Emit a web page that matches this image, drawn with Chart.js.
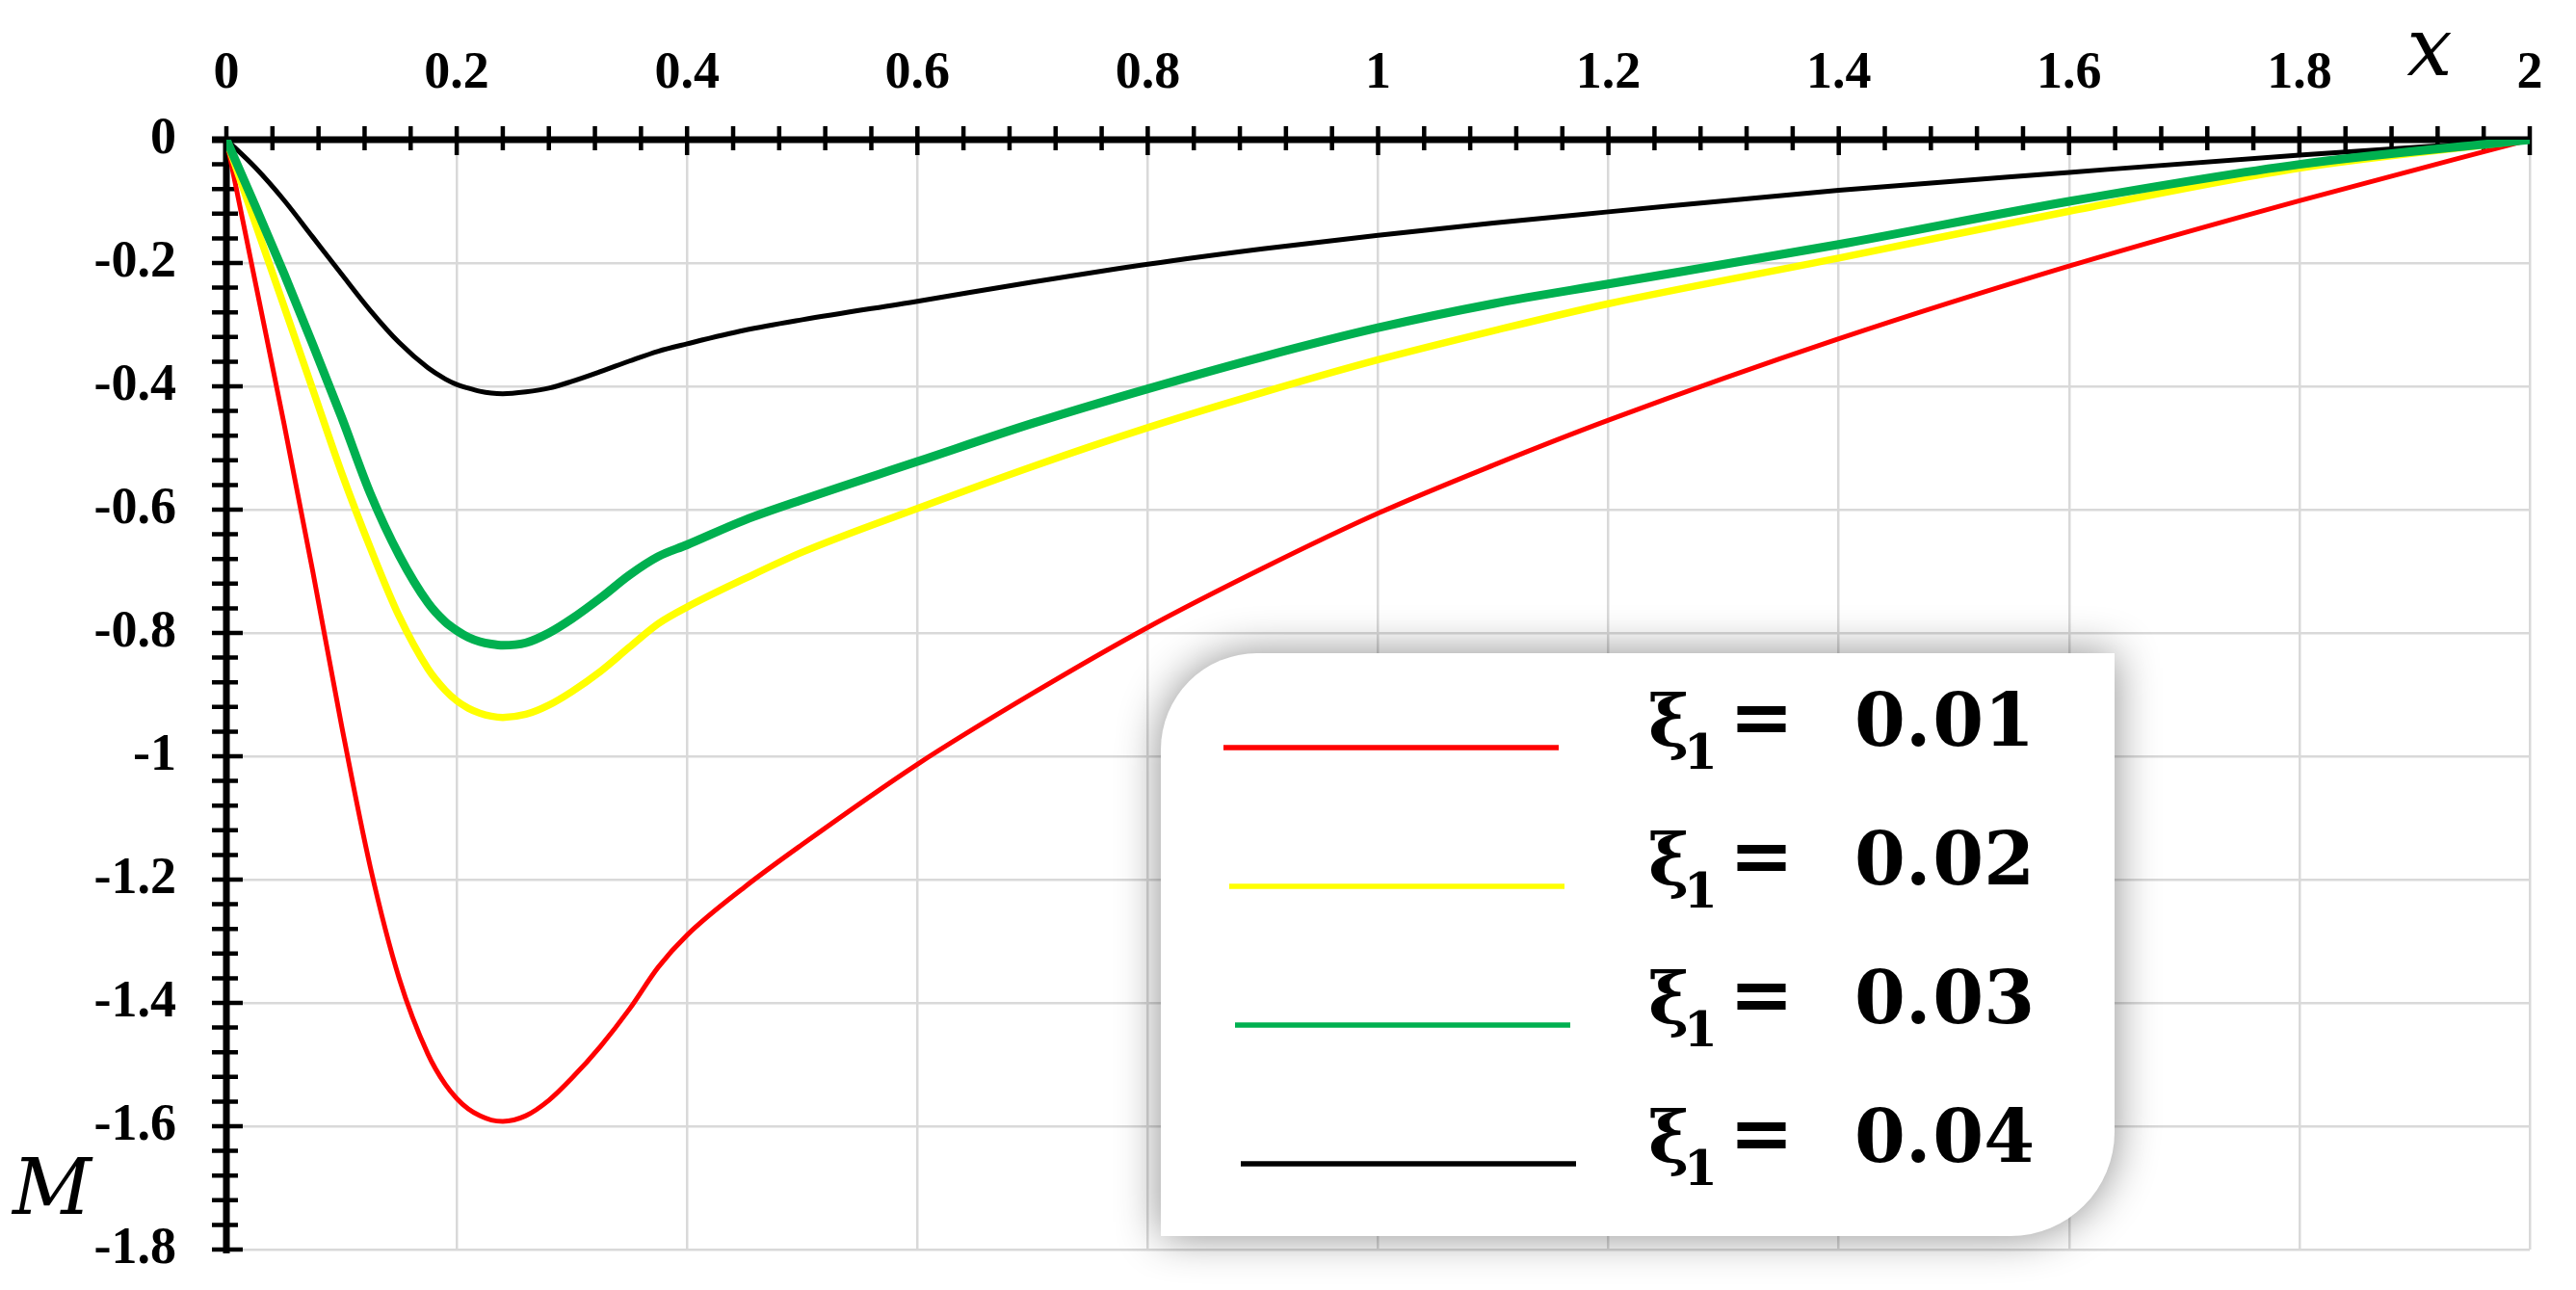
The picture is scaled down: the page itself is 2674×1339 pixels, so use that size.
<!DOCTYPE html>
<html>
<head>
<meta charset="utf-8">
<script src="https://cdn.jsdelivr.net/npm/chart.js@4/dist/chart.umd.min.js"></script>
<style>
  html, body { margin: 0; padding: 0; background: #ffffff; }
  #wrap { width: 2674px; height: 1339px; position: relative; }
</style>
</head>
<body>
<div id="wrap"><canvas id="c" width="2674" height="1339"></canvas></div>
<script>
// ---- data ----
const xValues = [0, 0.025, 0.05, 0.075, 0.1, 0.125, 0.15, 0.175, 0.19, 0.2, 0.21, 0.22, 0.23, 0.24, 0.26, 0.28, 0.3, 0.325, 0.35, 0.375, 0.4, 0.45, 0.5, 0.6, 0.7, 0.8, 0.9, 1.0, 1.1, 1.2, 1.4, 1.6, 1.8, 2.0];

const seriesXi001 = [0, -0.23, -0.46, -0.70, -0.95, -1.18, -1.36, -1.483, -1.532, -1.555, -1.572, -1.583, -1.590, -1.592, -1.583, -1.558, -1.522, -1.470, -1.410, -1.342, -1.290, -1.212, -1.143, -1.013, -0.898, -0.791, -0.695, -0.606, -0.528, -0.455, -0.323, -0.205, -0.099, 0];
const seriesXi002 = [0, -0.135, -0.27, -0.405, -0.54, -0.662, -0.773, -0.858, -0.893, -0.910, -0.922, -0.930, -0.935, -0.937, -0.932, -0.917, -0.895, -0.862, -0.823, -0.785, -0.758, -0.712, -0.669, -0.598, -0.530, -0.467, -0.410, -0.357, -0.310, -0.266, -0.192, -0.116, -0.046, 0];
const seriesXi003 = [0, -0.107, -0.217, -0.332, -0.450, -0.574, -0.674, -0.751, -0.782, -0.796, -0.807, -0.814, -0.818, -0.820, -0.816, -0.800, -0.777, -0.743, -0.706, -0.676, -0.657, -0.617, -0.584, -0.522, -0.460, -0.404, -0.352, -0.305, -0.266, -0.234, -0.170, -0.100, -0.040, 0];
const seriesXi004 = [0, -0.045, -0.098, -0.158, -0.218, -0.277, -0.329, -0.370, -0.388, -0.397, -0.403, -0.408, -0.411, -0.412, -0.409, -0.403, -0.392, -0.376, -0.359, -0.343, -0.331, -0.309, -0.292, -0.262, -0.231, -0.202, -0.177, -0.155, -0.135, -0.117, -0.082, -0.053, -0.025, 0];

const legendValues = ['0.01', '0.02', '0.03', '0.04'];
const xTickLabels = ['0', '0.2', '0.4', '0.6', '0.8', '1', '1.2', '1.4', '1.6', '1.8', '2'];
const yTickLabels = ['-1.8', '-1.6', '-1.4', '-1.2', '-1', '-0.8', '-0.6', '-0.4', '-0.2', '0'];
const xAxisTitle = 'x';
const yAxisTitle = 'M';

// ---- styling ----
const colors = ['#ff0000', '#ffff00', '#00b050', '#000000'];
const widths = [5, 7.5, 9, 5];
const drawOrder = [2, 1, 0, 3];
const tickFont = { family: '"Liberation Serif", "DejaVu Serif", serif', size: 54, weight: 'bold' };

const allSeries = [seriesXi001, seriesXi002, seriesXi003, seriesXi004];
const datasets = allSeries.map((s, i) => ({
  label: 'ξ₁ = ' + legendValues[i],
  data: xValues.map((x, k) => ({ x: x, y: s[k] })),
  borderColor: colors[i],
  backgroundColor: colors[i],
  borderWidth: widths[i],
  pointRadius: 0,
  cubicInterpolationMode: 'monotone',
  fill: false,
  order: drawOrder[i],
  borderCapStyle: 'round',
  borderJoinStyle: 'round'
}));

// thick axis lines with crossing tick marks, legend box, axis titles
const axesPlugin = {
  id: 'axesPlugin',
  beforeDatasetsDraw(chart) {
    const ctx = chart.ctx;
    const xs = chart.scales.x, ys = chart.scales.y;
    const x0 = xs.getPixelForValue(0), x2 = xs.getPixelForValue(2);
    const y0 = ys.getPixelForValue(0), yb = ys.getPixelForValue(-1.8);
    ctx.save();
    ctx.strokeStyle = '#000';
    ctx.lineCap = 'butt';
    ctx.lineWidth = 7;
    ctx.beginPath();
    ctx.moveTo(x0 - 15, y0); ctx.lineTo(x2 + 2, y0);
    ctx.moveTo(x0, y0 - 2); ctx.lineTo(x0, yb + 4);
    ctx.stroke();
    ctx.lineWidth = 4.5;
    ctx.beginPath();
    for (let k = 0; k <= 50; k++) {
      const px = xs.getPixelForValue(k * 0.04);
      const major = (k % 5 === 0);
      ctx.moveTo(px, y0 - 14);
      ctx.lineTo(px, y0 + (major ? 16 : 11));
    }
    for (let k = 1; k <= 45; k++) {
      const py = ys.getPixelForValue(-k * 0.04);
      const major = (k % 5 === 0);
      ctx.moveTo(x0 - 15, py);
      ctx.lineTo(x0 + (major ? 17 : 12), py);
    }
    ctx.stroke();
    ctx.restore();
  },
  afterDatasetsDraw(chart) {
    const ctx = chart.ctx;
    const bx = 1205, by = 678, bw = 990, bh = 605, r1 = 100, r2 = 108;
    ctx.save();
    ctx.beginPath();
    ctx.moveTo(bx + r1, by);
    ctx.lineTo(bx + bw, by);
    ctx.lineTo(bx + bw, by + bh - r2);
    ctx.arcTo(bx + bw, by + bh, bx + bw - r2, by + bh, r2);
    ctx.lineTo(bx, by + bh);
    ctx.lineTo(bx, by + r1);
    ctx.arcTo(bx, by, bx + r1, by, r1);
    ctx.closePath();
    ctx.shadowColor = 'rgba(0,0,0,0.45)';
    ctx.shadowBlur = 45;
    ctx.fillStyle = '#ffffff';
    ctx.fill();
    ctx.restore();

    ctx.save();
    chart.data.datasets.forEach((ds, i) => {
      const ly = by + 98 + i * 144;
      const lx = bx + 65 + i * 6;
      ctx.strokeStyle = ds.borderColor;
      ctx.lineWidth = 5.5;
      ctx.lineCap = 'butt';
      ctx.beginPath();
      ctx.moveTo(lx, ly);
      ctx.lineTo(lx + 348, ly);
      ctx.stroke();

      const base = ly - 2;
      ctx.fillStyle = '#000';
      ctx.textBaseline = 'alphabetic';
      ctx.textAlign = 'left';
      ctx.font = 'bold 72px "DejaVu Serif", serif';
      ctx.fillText('ξ', bx + 506, base);
      ctx.font = 'bold 50px "DejaVu Serif", serif';
      ctx.fillText('1', bx + 543, base + 24);
      ctx.font = 'bold 80px "DejaVu Serif", serif';
      ctx.fillText('=', bx + 590, base - 2);
      const val = legendValues[i];
      const a = val.slice(0, 2), b = val.slice(2);
      ctx.font = 'bold 76px "DejaVu Serif", serif';
      ctx.fillText(a, bx + 720, base);
      const wa = ctx.measureText(a).width;
      ctx.fillText(b, bx + 720 + wa + 2, base);
    });
    ctx.restore();
  },
  afterDraw(chart) {
    const ctx = chart.ctx;
    ctx.save();
    ctx.fillStyle = '#000';
    ctx.font = 'italic 84px "DejaVu Serif", serif';
    ctx.textAlign = 'center';
    ctx.textBaseline = 'alphabetic';
    ctx.fillText(xAxisTitle, 2522, 78);
    ctx.font = 'italic 80px "DejaVu Serif", serif';
    ctx.fillText(yAxisTitle, 54, 1260);
    ctx.restore();
  }
};

new Chart(document.getElementById('c'), {
  type: 'line',
  data: { datasets: datasets },
  options: {
    responsive: false,
    animation: false,
    devicePixelRatio: 1,
    layout: { padding: { left: 0, top: 0, right: 48, bottom: 42 } },
    plugins: { legend: { display: false }, tooltip: { enabled: false } },
    scales: {
      x: {
        type: 'linear',
        position: 'top',
        min: 0, max: 2,
        afterFit: (s) => { s.height = 145; s.paddingLeft = 0; s.paddingRight = 0; },
        border: { display: false },
        grid: { color: '#d9d9d9', lineWidth: 2.5, drawTicks: false },
        ticks: {
          stepSize: 0.2,
          padding: 36,
          color: '#000',
          font: tickFont,
          maxRotation: 0,
          autoSkip: false,
          callback: (v, i) => xTickLabels[i]
        }
      },
      y: {
        type: 'linear',
        position: 'left',
        min: -1.8, max: 0,
        afterFit: (s) => { s.width = 235; s.paddingTop = 0; s.paddingBottom = 0; },
        border: { display: false },
        grid: { color: '#d9d9d9', lineWidth: 2.5, drawTicks: false },
        ticks: {
          stepSize: 0.2,
          padding: 52,
          color: '#000',
          font: tickFont,
          autoSkip: false,
          callback: (v, i) => yTickLabels[i]
        }
      }
    }
  },
  plugins: [axesPlugin]
});
</script>
</body>
</html>
